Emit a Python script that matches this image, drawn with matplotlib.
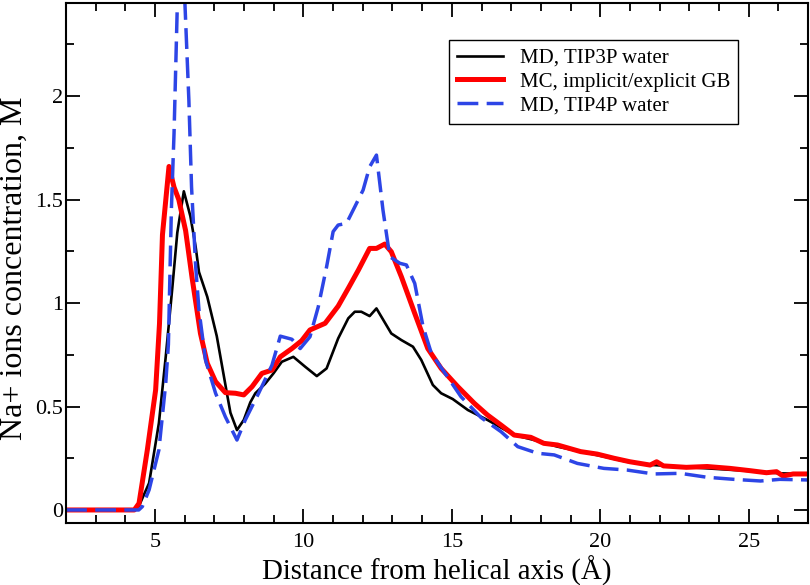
import numpy as np
import matplotlib
matplotlib.use("Agg")
import matplotlib.pyplot as plt
from matplotlib.ticker import MultipleLocator, FuncFormatter

plt.rcParams['font.family'] = ['Liberation Serif', 'DejaVu Serif']

# MD, TIP3P water
x_tip3p = [2.0, 4.3, 4.46, 4.8, 5.13, 5.36, 5.58, 5.75, 5.97, 6.19, 6.37, 6.48, 6.76, 7.08,
           7.42, 7.54, 7.76, 7.99, 8.21, 8.38, 8.71, 8.99, 9.27, 9.66, 10.06, 10.45, 10.78,
           11.17, 11.51, 11.73, 11.95, 12.23, 12.46, 12.96, 13.3, 13.69, 13.97, 14.36, 14.64,
           15.03, 15.54, 16.2, 17.1, 17.77, 18.56, 19.34, 20.12, 20.9, 21.8, 22.7, 23.6,
           24.5, 25.4, 26.05, 27.0]
y_tip3p = [0.0, 0.0, 0.02, 0.13, 0.42, 0.74, 1.07, 1.34, 1.54, 1.42, 1.27, 1.15, 1.03, 0.84,
           0.565, 0.47, 0.386, 0.435, 0.52, 0.564, 0.61, 0.66, 0.716, 0.74, 0.692, 0.647, 0.684,
           0.829, 0.926, 0.958, 0.958, 0.937, 0.974, 0.853, 0.821, 0.789, 0.725, 0.604, 0.564,
           0.536, 0.483, 0.435, 0.362, 0.338, 0.306, 0.282, 0.258, 0.233, 0.217, 0.209, 0.201,
           0.193, 0.185, 0.177, 0.174]

# MC, implicit/explicit GB
x_mc = [2.0, 4.3, 4.46, 4.74, 5.02, 5.15, 5.25, 5.47, 5.64, 5.8, 6.03, 6.25, 6.53, 6.76,
        7.04, 7.37, 7.71, 7.99, 8.27, 8.6, 8.94, 9.22, 9.61, 9.94, 10.22, 10.73, 11.17,
        11.51, 11.85, 12.23, 12.46, 12.74, 12.96, 13.3, 13.75, 14.19, 14.64, 15.2, 15.76,
        16.2, 16.66, 17.1, 17.66, 18.1, 18.56, 19.34, 19.9, 20.46, 21.0, 21.68, 21.9, 22.13,
        22.9, 23.6, 24.37, 25.04, 25.6, 25.94, 26.16, 26.5, 27.0]
y_mc = [0.0, 0.0, 0.032, 0.29, 0.58, 0.9, 1.33, 1.66, 1.56, 1.5, 1.35, 1.12, 0.853, 0.709,
        0.62, 0.567, 0.564, 0.556, 0.596, 0.66, 0.676, 0.74, 0.78, 0.818, 0.87, 0.902, 0.985,
        1.071, 1.159, 1.264, 1.264, 1.285, 1.248, 1.127, 0.95, 0.78, 0.684, 0.596, 0.515,
        0.459, 0.41, 0.362, 0.351, 0.322, 0.314, 0.282, 0.27, 0.25, 0.233, 0.217, 0.233, 0.213,
        0.206, 0.21, 0.201, 0.19, 0.18, 0.185, 0.164, 0.174, 0.174]

# MD, TIP4P water
x_tip4p = [2.0, 4.45, 4.57, 4.8, 5.13, 5.36, 5.45, 5.55, 5.64, 5.85, 6.14, 6.23, 6.37, 6.48,
           6.7, 7.04, 7.37, 7.76, 8.04, 8.49, 8.94, 9.22, 9.61, 9.89, 10.22, 10.5, 10.78,
           11.0, 11.17, 11.45, 11.73, 12.01, 12.23, 12.46, 12.68, 12.91, 13.25, 13.47, 13.75,
           14.03, 14.31, 14.87, 15.31, 15.98, 16.66, 17.22, 17.89, 18.45, 19.23, 20.12, 20.9,
           21.8, 22.7, 23.6, 24.5, 25.4, 26.05, 27.0]
y_tip4p = [0.0, 0.0, 0.016, 0.097, 0.29, 0.612, 0.8, 1.45, 1.82, 3.0, 1.98, 1.56, 1.175, 0.966,
           0.725, 0.564, 0.45, 0.338, 0.435, 0.564, 0.7, 0.84, 0.825, 0.78, 0.837, 0.982, 1.175,
           1.345, 1.377, 1.385, 1.465, 1.546, 1.658, 1.715, 1.449, 1.224, 1.192, 1.184, 1.095,
           0.886, 0.757, 0.64, 0.547, 0.447, 0.378, 0.306, 0.274, 0.266, 0.225, 0.201, 0.193,
           0.174, 0.177, 0.158, 0.148, 0.14, 0.148, 0.145]

labels = ["MD, TIP3P water", "MC, implicit/explicit GB", "MD, TIP4P water"]

fig = plt.figure(figsize=(8.1, 5.85), dpi=100)
ax = fig.add_axes([66/810, 1-523/585, 742/810, 520/585])

ax.plot(x_tip3p, y_tip3p, color='black', lw=1.9, label=labels[0])
ax.plot(x_mc, y_mc, color='#ff0000', lw=3.6, label=labels[1])
ax.plot(x_tip4p, y_tip4p, color='#2d45e6', lw=2.5, dashes=(6, 2.4), label=labels[2])

ax.set_xlim(2, 27)
ax.set_ylim(-0.063, 2.45)
ax.xaxis.set_major_locator(MultipleLocator(5))
ax.xaxis.set_minor_locator(MultipleLocator(1))
ax.yaxis.set_major_locator(MultipleLocator(0.5))
ax.yaxis.set_minor_locator(MultipleLocator(0.25))
ax.yaxis.set_major_formatter(FuncFormatter(lambda v, p: '%g' % v))
ax.tick_params(which='both', direction='in', top=True, right=True, width=1.3, labelsize=16)
ax.tick_params(which='major', length=10)
ax.tick_params(axis='y', which='major', pad=2)
ax.tick_params(axis='x', which='major', pad=7)
ax.tick_params(which='minor', length=5.5)
for s in ax.spines.values():
	s.set_linewidth(1.5)

ax.set_xlabel("Distance from helical axis (Å)", fontsize=20.8)
ax.xaxis.set_label_coords(0.5, -0.062)
ax.xaxis.label.set_va('top')
ax.set_ylabel("Na+ ions concentration, M", fontsize=23)
ax.yaxis.set_label_coords(-0.05, 0.49)

leg = ax.legend(loc='upper right', bbox_to_anchor=(0.906, 0.929), fontsize=15,
                fancybox=False, edgecolor='black', framealpha=1, handlelength=2.2,
                borderpad=0.4, labelspacing=0.2, borderaxespad=0)
leg.get_frame().set_linewidth(1.0)

fig.savefig("out.png", dpi=100)
